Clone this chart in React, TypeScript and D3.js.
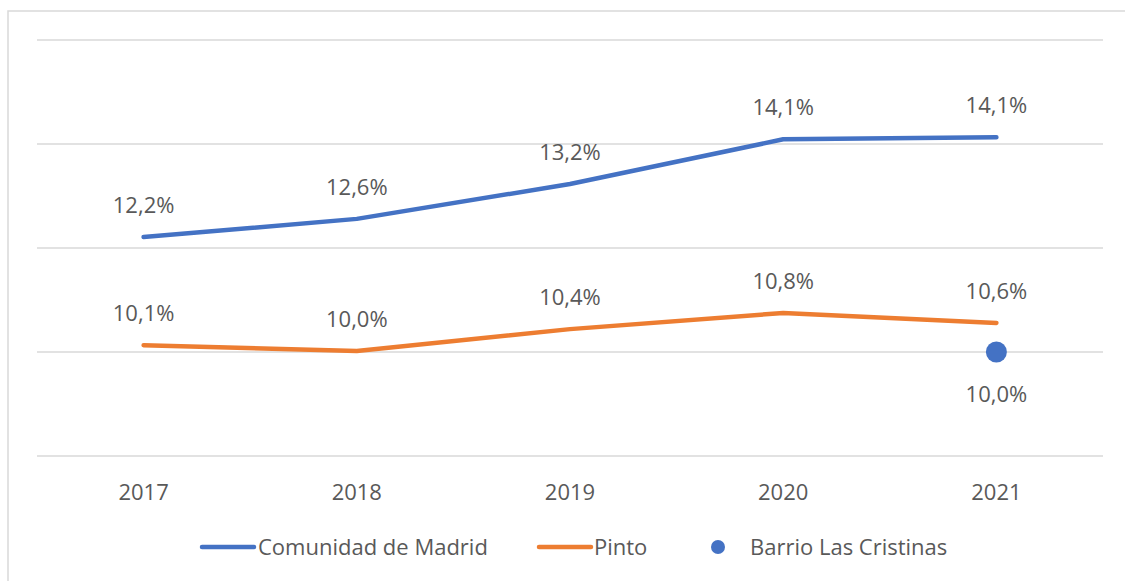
import React from "react";
import * as d3 from "d3";

const years = ["2017", "2018", "2019", "2020", "2021"];
const madrid = [12.21, 12.56, 13.23, 14.09, 14.13];
const pinto = [10.13, 10.02, 10.44, 10.75, 10.56];
const madridLabels = ["12,2%", "12,6%", "13,2%", "14,1%", "14,1%"];
const pintoLabels = ["10,1%", "10,0%", "10,4%", "10,8%", "10,6%"];
const barrioYear = "2021";
const barrioValue = 10.0;
const barrioLabel = "10,0%";
const yTicks = [8, 10, 12, 14, 16];

const BLUE = "#4472C4";
const ORANGE = "#ED7D31";
const TEXT = "#595959";
const FONT = "'Open Sans', 'Noto Sans', sans-serif";
const FS = 22;

export default function App() {
  const W = 1125, H = 581;
  const x = d3.scaleBand().domain(years).range([37, 1103]);
  const cx = (yr: string) => (x(yr) as number) + x.bandwidth() / 2;
  const y = d3.scaleLinear().domain([8, 16]).range([456, 40]);
  const line = d3.line<number>().x((_, i) => cx(years[i])).y((d) => y(d));

  return (
    <svg width={W} height={H} style={{ position: "absolute", left: 0, top: 0 }} fontFamily={FONT}>
      <rect x={0} y={0} width={W} height={H} fill="#fff" />
      <rect x={8} y={11} width={W + 10} height={H + 10} fill="none" stroke="#d9d9d9" strokeWidth={1.5} />
      {yTicks.map((t) => (
        <line key={t} x1={37} x2={1103} y1={y(t)} y2={y(t)} stroke="#d9d9d9" strokeWidth={1.5} />
      ))}
      <path d={line(madrid) || ""} fill="none" stroke={BLUE} strokeWidth={4.5} strokeLinecap="round" strokeLinejoin="round" />
      <path d={line(pinto) || ""} fill="none" stroke={ORANGE} strokeWidth={4.5} strokeLinecap="round" strokeLinejoin="round" />
      <circle cx={cx(barrioYear)} cy={y(barrioValue)} r={10.5} fill={BLUE} />
      {madrid.map((v, i) => (
        <text key={"m" + i} x={cx(years[i])} y={y(v) - 24} textAnchor="middle" fontSize={FS} fill={TEXT}>{madridLabels[i]}</text>
      ))}
      {pinto.map((v, i) => (
        <text key={"p" + i} x={cx(years[i])} y={y(v) - 24} textAnchor="middle" fontSize={FS} fill={TEXT}>{pintoLabels[i]}</text>
      ))}
      <text x={cx(barrioYear)} y={y(barrioValue) + 50} textAnchor="middle" fontSize={FS} fill={TEXT}>{barrioLabel}</text>
      {years.map((yr) => (
        <text key={yr} x={cx(yr)} y={500} textAnchor="middle" fontSize={FS} fill={TEXT}>{yr}</text>
      ))}
      <line x1={202} x2={254} y1={547} y2={547} stroke={BLUE} strokeWidth={4.5} strokeLinecap="round" />
      <text x={258} y={555} fontSize={FS} fill={TEXT}>Comunidad de Madrid</text>
      <line x1={539} x2={591} y1={547} y2={547} stroke={ORANGE} strokeWidth={4.5} strokeLinecap="round" />
      <text x={594} y={555} fontSize={FS} fill={TEXT}>Pinto</text>
      <circle cx={718} cy={547} r={7} fill={BLUE} />
      <text x={750} y={555} fontSize={FS} fill={TEXT}>Barrio Las Cristinas</text>
    </svg>
  );
}
